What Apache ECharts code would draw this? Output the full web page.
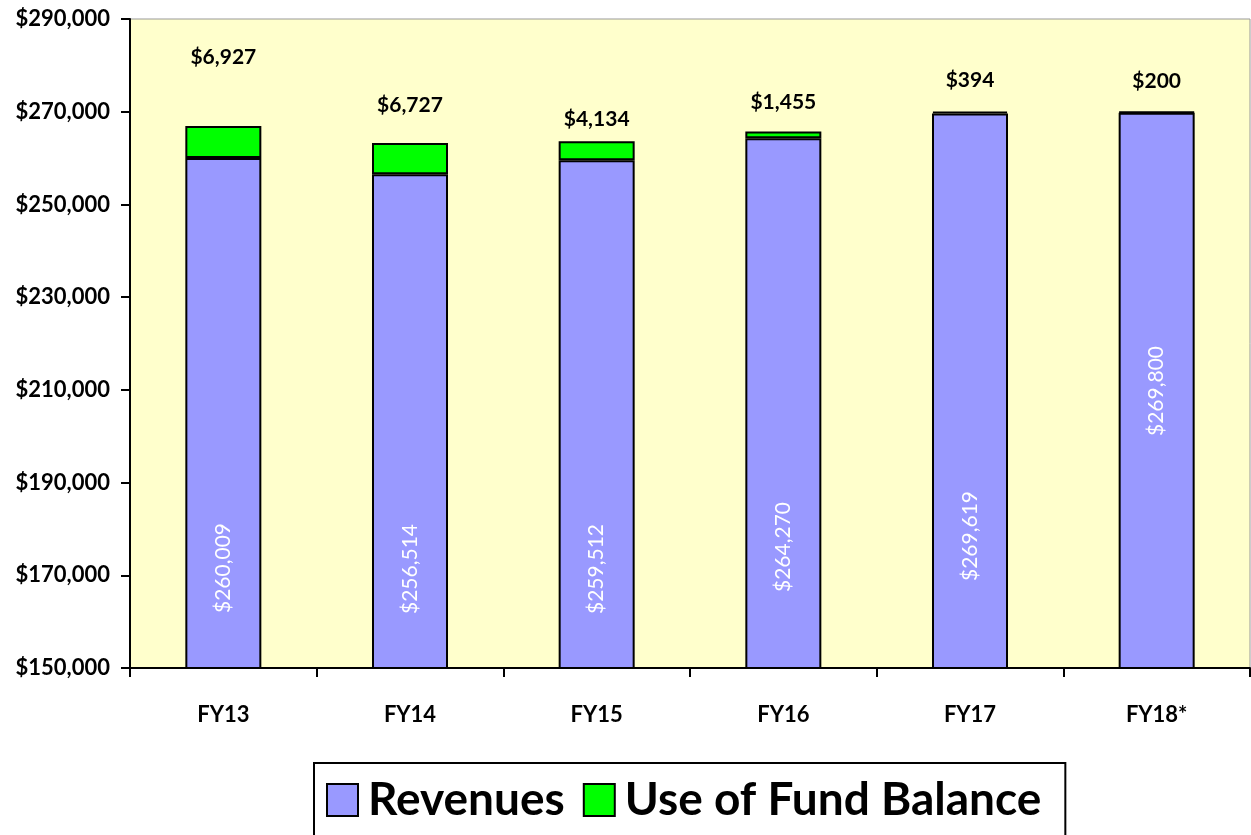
<!DOCTYPE html>
<html>
<head>
<meta charset="utf-8">
<script src="https://cdn.jsdelivr.net/npm/echarts@6/dist/echarts.min.js"></script>
<style>
  html, body { margin: 0; padding: 0; background: #fff; }
  #chart { width: 1251px; height: 835px; }
</style>
</head>
<body>
<div id="chart"></div>
<script>
// values
const years = ['FY13', 'FY14', 'FY15', 'FY16', 'FY17', 'FY18*'];
const revenues = [260009, 256514, 259512, 264270, 269619, 269800];
const fundBalance = [6927, 6727, 4134, 1455, 394, 200];

// label placement (pixels), matched by eye
const revLabelLift = [101, 100, 100, 122, 133, 278];
const fundLabelGap = [58, 27, 11, 19, 21, 19];

const FONT = 'Lato, "DejaVu Sans", sans-serif';
const money = v => '$' + Number(v).toLocaleString('en-US');

const chart = echarts.init(document.getElementById('chart'));

chart.setOption({
    animation: false,
    textStyle: { fontFamily: FONT },
    grid: {
        left: 130,
        right: 1,
        top: 19,
        bottom: 167,
        show: true,
        backgroundColor: '#FFFFCC',
        borderColor: '#999999',
        borderWidth: 1
    },
    legend: {
        top: 763,
        left: 314,
        padding: [14, 24, 30, 12],
        backgroundColor: '#fff',
        borderColor: '#000',
        borderWidth: 2,
        itemGap: 18,
        itemWidth: 31,
        itemHeight: 32,
        icon: 'rect',
        textStyle: {
            fontFamily: FONT,
            fontSize: 46,
            fontWeight: 'bold',
            color: '#000',
            padding: [0, 0, 0, 5]
        },
        data: ['Revenues', 'Use of Fund Balance']
    },
    xAxis: {
        type: 'category',
        data: years,
        boundaryGap: true,
        axisLine: { lineStyle: { color: '#000', width: 2 } },
        axisTick: { show: true, alignWithLabel: false, length: 9, lineStyle: { color: '#000', width: 2 } },
        axisLabel: {
            margin: 36,
            color: '#000',
            fontSize: 22,
            fontWeight: 'bold',
            fontFamily: FONT
        }
    },
    yAxis: {
        type: 'value',
        min: 150000,
        max: 290000,
        interval: 20000,
        splitLine: { show: false },
        axisLine: { show: true, lineStyle: { color: '#000', width: 2 } },
        axisTick: { show: true, length: 9, lineStyle: { color: '#000', width: 2 } },
        axisLabel: {
            margin: 20,
            color: '#000',
            fontSize: 22,
            fontWeight: 'bold',
            fontFamily: FONT,
            formatter: money
        }
    },
    series: [
        {
            name: 'Revenues',
            type: 'bar',
            stack: 'total',
            barWidth: 76,
            itemStyle: { color: '#9999FF', borderColor: '#000', borderWidth: 2 },
            label: {
                show: true,
                position: 'insideBottom',
                rotate: 90,
                align: 'center',
                verticalAlign: 'middle',
                color: '#fff',
                fontSize: 21,
                fontFamily: FONT,
                formatter: p => money(p.value)
            },
            data: revenues.map((v, i) => ({ value: v, label: { distance: revLabelLift[i] } }))
        },
        {
            name: 'Use of Fund Balance',
            type: 'bar',
            stack: 'total',
            barWidth: 76,
            itemStyle: { color: '#00FF00', borderColor: '#000', borderWidth: 2 },
            label: {
                show: true,
                position: 'top',
                color: '#000',
                fontSize: 21,
                fontWeight: 'bold',
                fontFamily: FONT,
                formatter: p => money(p.value)
            },
            data: fundBalance.map((v, i) => ({ value: v, label: { distance: fundLabelGap[i] } }))
        }
    ]
});
</script>
</body>
</html>
